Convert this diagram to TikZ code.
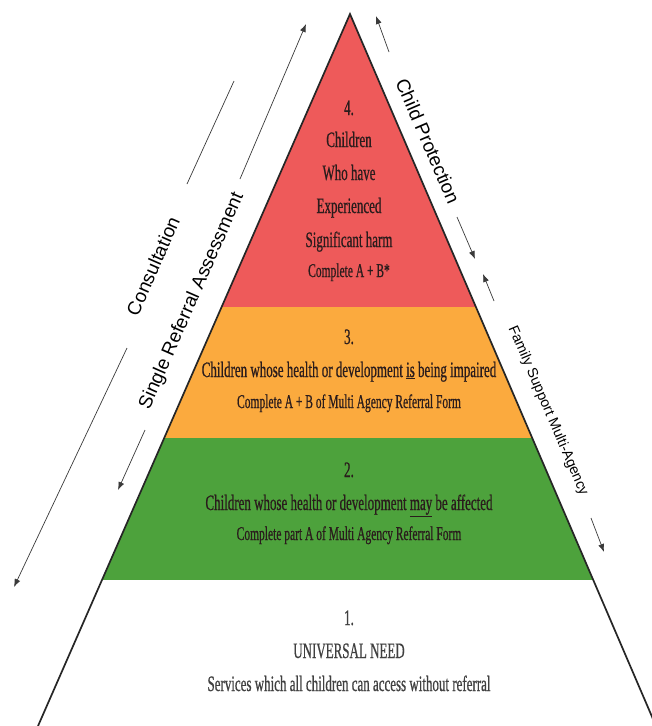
\documentclass[tikz,border=0pt]{standalone}
\usepackage{fontspec}
\newfontfamily\condfont{Liberation Serif}[FakeStretch=0.59,FakeBold=0.6]
\newfontfamily\arialfont{Liberation Sans}
\usetikzlibrary{arrows.meta}
\definecolor{redband}{HTML}{EE5A5A}
\definecolor{orangeband}{HTML}{FBAA3E}
\definecolor{greenband}{HTML}{4DA23C}
\definecolor{textc}{HTML}{2A1C1C}
\definecolor{greytext}{HTML}{404040}
\definecolor{edgec}{HTML}{262626}
\definecolor{arrowc}{HTML}{3A3A3A}
\begin{document}
\begin{tikzpicture}[x=1pt,y=-1pt,
  bigtxt/.style={font=\condfont\fontsize{22}{24}\selectfont, text=textc, inner sep=0pt, anchor=base},
  smalltxt/.style={font=\condfont\fontsize{19.5}{22}\selectfont, text=textc, inner sep=0pt, anchor=base},
  sidetxt/.style={font=\arialfont\fontsize{19}{21}\selectfont, text=black, inner sep=0pt},
  arr/.style={draw=arrowc, line width=0.7pt, -{Latex[length=8pt,width=6pt]}},
  seg/.style={draw=arrowc, line width=0.7pt},
  edge/.style={draw=edgec, line width=1.7pt, line join=miter}]
\useasboundingbox (0,0) rectangle (652,726);
\fill[white] (0,0) rectangle (652,726);
\coordinate (apex) at (350,14);
\coordinate (bl) at (38,726);
\coordinate (br) at (656,726);
\begin{scope}
  \clip (apex) -- (bl) -- (br) -- cycle;
  \fill[redband] (0,0) rectangle (652,307);
  \fill[orangeband] (0,307) rectangle (652,438);
  \fill[greenband] (0,438) rectangle (652,580);
\end{scope}
\begin{scope}
  \clip (0,0) rectangle (652,726);
  \draw[edge] (bl) -- (apex) -- (br);
\end{scope}

% level 4
\node[bigtxt] (l4a) at (349,115) {4.};
\node[bigtxt] (l4b) at (349,147) {Children};
\node[bigtxt] (l4c) at (349,180) {Who have};
\node[bigtxt] (l4d) at (349,213) {Experienced};
\node[bigtxt] (l4e) at (349,247) {Significant harm};
\node[smalltxt] (l4f) at (349,277) {Complete A + B*};
% level 3
\node[bigtxt] (l3a) at (349,344) {3.};
\node[bigtxt] (l3b) at (349,377) {Children whose health or development \underline{is} being impaired};
\node[smalltxt] (l3c) at (349,408) {Complete A + B of Multi Agency Referral Form};
% level 2
\node[bigtxt] (l2a) at (349,477) {2.};
\node[bigtxt] (l2b) at (349,510) {Children whose health or development \underline{may} be affected};
\node[smalltxt] (l2c) at (349,540) {Complete part A of Multi Agency Referral Form};
% level 1
\node[bigtxt, text=greytext] (l1a) at (349,625) {1.};
\node[bigtxt, text=greytext] (l1b) at (349,658) {UNIVERSAL NEED};
\node[bigtxt, text=greytext] (l1c) at (349,691) {Services which all children can access without referral};

% side labels
\node[sidetxt, rotate=66.3] (cons) at (153,266) {Consultation};
\node[sidetxt, rotate=66.3] (sra) at (192,301) {Single Referral Assessment};
\node[sidetxt, rotate=-66.7] (cp) at (428,141) {Child Protection};
\node[sidetxt, rotate=-66.7, font=\arialfont\fontsize{14.3}{16}\selectfont] (fs) at (548,411) {Family Support Multi-Agency};

% arrows
\coordinate (a1s) at (240,179); \coordinate (a1e) at (306,24);
\coordinate (a2s) at (145,430); \coordinate (a2e) at (118,490);
\coordinate (b1s) at (234,81);  \coordinate (b1e) at (187,184);
\coordinate (b2s) at (127,348); \coordinate (b2e) at (14,587);
\coordinate (c1s) at (389,52);  \coordinate (c1e) at (376,16);
\coordinate (c2s) at (457,217); \coordinate (c2e) at (475,259);
\coordinate (d1s) at (494,301); \coordinate (d1e) at (483,274);
\coordinate (d2s) at (591,518); \coordinate (d2e) at (604,552);
\draw[arr] (a1s) -- (a1e);
\draw[arr] (a2s) -- (a2e);
\draw[seg] (b1s) -- (b1e);
\draw[arr] (b2s) -- (b2e);
\draw[arr] (c1s) -- (c1e);
\draw[arr] (c2s) -- (c2e);
\draw[arr] (d1s) -- (d1e);
\draw[arr] (d2s) -- (d2e);
\end{tikzpicture}
\end{document}
